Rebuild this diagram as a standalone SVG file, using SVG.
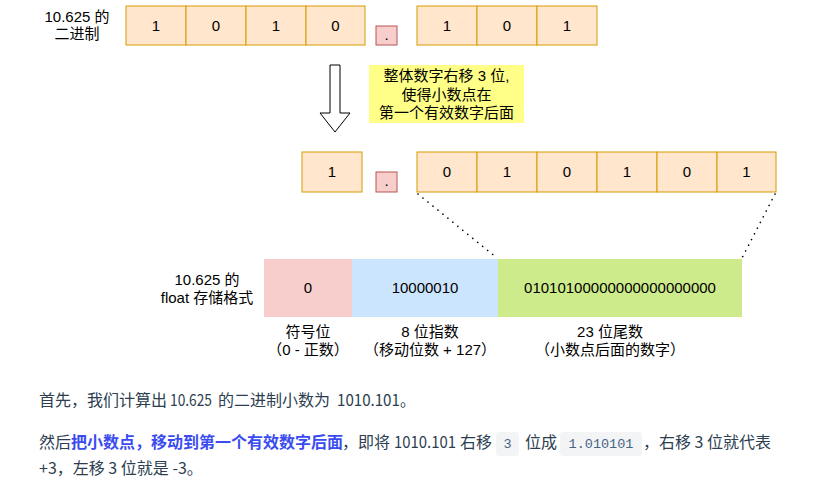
<svg xmlns="http://www.w3.org/2000/svg" width="821" height="502" viewBox="0 0 821 502">
<style>
.d{font-family:"Liberation Sans","Noto Sans CJK SC",sans-serif;font-size:15px;fill:#000;text-anchor:middle}
.cell{fill:#ffe6cc;stroke:#d79b00;stroke-width:1}
.dot{fill:#f8cecc;stroke:#b85450;stroke-width:1}
.p{font-family:"Noto Sans CJK SC","Liberation Sans",sans-serif;font-size:16px;fill:#2c3e50}
.b{fill:#3a4cf0;font-weight:bold}
.code{fill:#f3f4f5}
.ct{font-family:"Liberation Mono",monospace;font-size:13.5px;fill:#476582;text-anchor:middle}
.dotted{fill:none;stroke:#000;stroke-width:1.6;stroke-linecap:round;stroke-dasharray:0.1 6.3}
</style>
<rect width="821" height="502" fill="#fff"/>

<g id="label-binary">
<text class="d" x="77" y="22">10.625 的</text>
<text class="d" x="77" y="39">二进制</text>
</g>

<g id="row1-int">
<rect class="cell" x="126" y="6" width="60" height="39"/>
<rect class="cell" x="186" y="6" width="60" height="39"/>
<rect class="cell" x="246" y="6" width="60" height="39"/>
<rect class="cell" x="306" y="6" width="59" height="39"/>
<text class="d" x="156" y="31">1</text>
<text class="d" x="216" y="31">0</text>
<text class="d" x="276" y="31">1</text>
<text class="d" x="335.5" y="31">0</text>
</g>
<g id="row1-dot">
<rect class="dot" x="376" y="26" width="21" height="19"/>
<text class="d" x="386.5" y="40">.</text>
</g>
<g id="row1-frac">
<rect class="cell" x="417" y="6" width="60" height="39"/>
<rect class="cell" x="477" y="6" width="60" height="39"/>
<rect class="cell" x="537" y="6" width="60" height="39"/>
<text class="d" x="447" y="31">1</text>
<text class="d" x="507" y="31">0</text>
<text class="d" x="567" y="31">1</text>
</g>

<g id="note">
<rect x="369" y="65" width="155" height="58" fill="#ffff88"/>
<text class="d" x="446.5" y="81">整体数字右移 3 位,</text>
<text class="d" x="446.5" y="99.5">使得小数点在</text>
<text class="d" x="446.5" y="118">第一个有效数字后面</text>
</g>

<g id="row2-int">
<rect class="cell" x="302" y="152" width="60" height="40"/>
<text class="d" x="332" y="177">1</text>
</g>
<g id="row2-dot">
<rect class="dot" x="376" y="172" width="21" height="20"/>
<text class="d" x="386.5" y="186">.</text>
</g>
<g id="row2-frac">
<rect class="cell" x="417" y="152" width="60" height="40"/>
<rect class="cell" x="477" y="152" width="60" height="40"/>
<rect class="cell" x="537" y="152" width="60" height="40"/>
<rect class="cell" x="597" y="152" width="60" height="40"/>
<rect class="cell" x="657" y="152" width="60" height="40"/>
<rect class="cell" x="717" y="152" width="59" height="40"/>
<text class="d" x="447" y="177">0</text>
<text class="d" x="507" y="177">1</text>
<text class="d" x="567" y="177">0</text>
<text class="d" x="627" y="177">1</text>
<text class="d" x="687" y="177">0</text>
<text class="d" x="746.5" y="177">1</text>
</g>

<g id="label-float">
<text class="d" x="207" y="285">10.625 的</text>
<text class="d" x="207" y="303">float 存储格式</text>
</g>
<g id="sign">
<rect x="264" y="259" width="88" height="58" fill="#f8cecc"/>
<text class="d" x="308" y="293">0</text>
<text class="d" x="308" y="337">符号位</text>
<text class="d" x="308" y="355">（0 - 正数）</text>
</g>
<g id="exponent">
<rect x="352" y="259" width="146" height="58" fill="#cce5ff"/>
<text class="d" x="425" y="293">10000010</text>
<text class="d" x="430" y="337">8 位指数</text>
<text class="d" x="430" y="355">（移动位数 + 127）</text>
</g>
<g id="mantissa">
<rect x="498" y="259" width="244" height="58" fill="#cdeb8b"/>
<text class="d" x="620" y="293">01010100000000000000000</text>
<text class="d" x="610" y="337">23 位尾数</text>
<text class="d" x="610" y="355">（小数点后面的数字）</text>
</g>

<g id="connectors">
<polygon points="330,65 340,65 340,113 350,113 335,132 320,113 330,113" fill="#fff" stroke="#000" stroke-width="1"/>
<line class="dotted" x1="418" y1="194" x2="497" y2="258"/>
<line class="dotted" x1="775" y1="194" x2="742" y2="258"/>
</g>

<g id="paragraph">
<text class="p" x="39" y="406">首先，我们计算出</text>
<text class="p" x="170" y="406" textLength="42" lengthAdjust="spacingAndGlyphs">10.625</text>
<text class="p" x="218" y="406">的二进制小数为</text>
<text class="p" x="337" y="406" textLength="78" lengthAdjust="spacingAndGlyphs">1010.101。</text>

<text class="p" x="39" y="448">然后<tspan class="b">把小数点，移动到第一个有效数字后面</tspan></text>
<text class="p" x="342" y="448">，即将</text>
<text class="p" x="394" y="448" textLength="62" lengthAdjust="spacingAndGlyphs">1010.101</text>
<text class="p" x="460" y="448">右移</text>
<rect class="code" x="496" y="432" width="23" height="24" rx="3"/>
<text class="ct" x="507.5" y="448">3</text>
<text class="p" x="525" y="448">位成</text>
<rect class="code" x="560" y="432" width="82" height="24" rx="3"/>
<text class="ct" x="601" y="448">1.010101</text>
<text class="p" x="643" y="448">，右移 3 位就代表</text>

<text class="p" x="39" y="474">+3，左移 3 位就是 -3。</text>
</g>
</svg>
